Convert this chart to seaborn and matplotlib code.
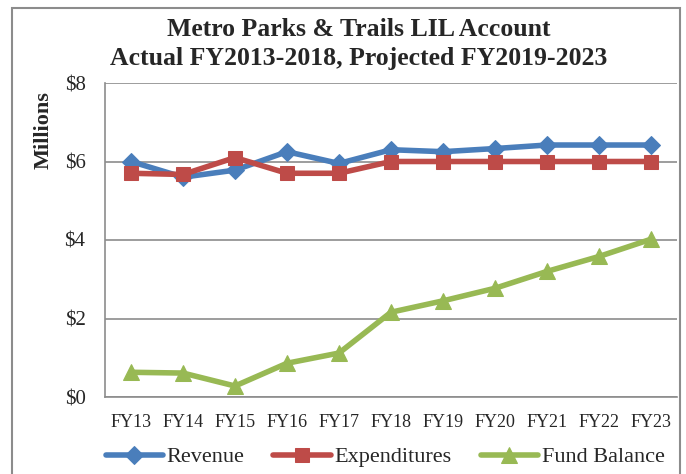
import matplotlib
matplotlib.use("Agg")
import matplotlib.pyplot as plt
import seaborn as sns
import pandas as pd
from matplotlib.patches import Rectangle

sns.set_theme(style="white")
plt.rcParams['font.family'] = ['Liberation Serif', 'DejaVu Serif']

years = ["FY13", "FY14", "FY15", "FY16", "FY17", "FY18", "FY19", "FY20", "FY21", "FY22", "FY23"]
revenue = [6.00, 5.60, 5.78, 6.25, 5.95, 6.30, 6.25, 6.33, 6.42, 6.42, 6.42]
expenditures = [5.70, 5.67, 6.10, 5.70, 5.70, 6.00, 6.00, 6.00, 6.00, 6.00, 6.00]
fund_balance = [0.63, 0.61, 0.28, 0.86, 1.12, 2.16, 2.45, 2.77, 3.20, 3.58, 4.02]
y_ticks = [0, 2, 4, 6, 8]
y_labels = ["$0", "$2", "$4", "$6", "$8"]

series = ["Revenue", "Expenditures", "Fund Balance"]
colors = ["#4A7EBB", "#BE4B48", "#98B954"]
markers = ["D", "s", "^"]
sizes = [9, 10, 11]

df = pd.DataFrame({
    "Year": years * 3,
    "Value": revenue + expenditures + fund_balance,
    "Series": [series[0]] * len(years) + [series[1]] * len(years) + [series[2]] * len(years),
})

fig = plt.figure(figsize=(6.86, 4.74), dpi=100)
W, H = 686, 474
ax = fig.add_axes([105 / W, 1 - 397 / H, (677 - 105) / W, (397 - 83) / H])

for s, c, m, ms in zip(series, colors, markers, sizes):
    sub = df[df["Series"] == s]
    sns.lineplot(data=sub, x="Year", y="Value", ax=ax, color=c, marker=m,
                 markersize=ms, markeredgecolor=c, linewidth=4, label=s,
                 sort=False)

ax.set_xlim(-0.5, len(years) - 0.5)
ax.set_ylim(0, 8)
ax.set_yticks(y_ticks)
ax.set_yticklabels(y_labels, fontsize=15)
ax.tick_params(axis='x', labelsize=13, length=0, pad=12)
ax.tick_params(axis='y', length=0, pad=14)
ax.set_xlabel("")
ax.set_ylabel("")
ax.grid(axis='y', color="#8C8C8C", linewidth=1.2)
ax.set_axisbelow(True)
for sp in ["top", "right"]:
    ax.spines[sp].set_visible(False)
for sp in ["left", "bottom"]:
    ax.spines[sp].set_color("#8C8C8C")
    ax.spines[sp].set_linewidth(1.2)

fig.text(44 / W, 1 - 130 / H, "Millions", rotation=90, ha="center", va="center",
         fontsize=16, fontweight="bold")

ax.get_legend().remove()
handles, labels = ax.get_legend_handles_labels()
fig.legend(handles, labels, loc="center", bbox_to_anchor=(385 / W, 1 - 457 / H),
           ncol=3, frameon=False, fontsize=16, handlelength=2.6,
           columnspacing=1.3, handletextpad=0.15)

fig.text(359 / W, 1 - 30 / H, "Metro Parks & Trails LIL Account",
         ha="center", va="center", fontsize=18.5, fontweight="bold")
fig.text(359 / W, 1 - 58 / H, "Actual FY2013-2018, Projected FY2019-2023",
         ha="center", va="center", fontsize=18.5, fontweight="bold")

fig.patches.append(Rectangle((12 / W, -0.05), (680 - 12) / W, 1 - 8 / H + 0.05,
                             transform=fig.transFigure, fill=False,
                             edgecolor="#8C8C8C", linewidth=1.5))

fig.savefig("out.png", dpi=100)
